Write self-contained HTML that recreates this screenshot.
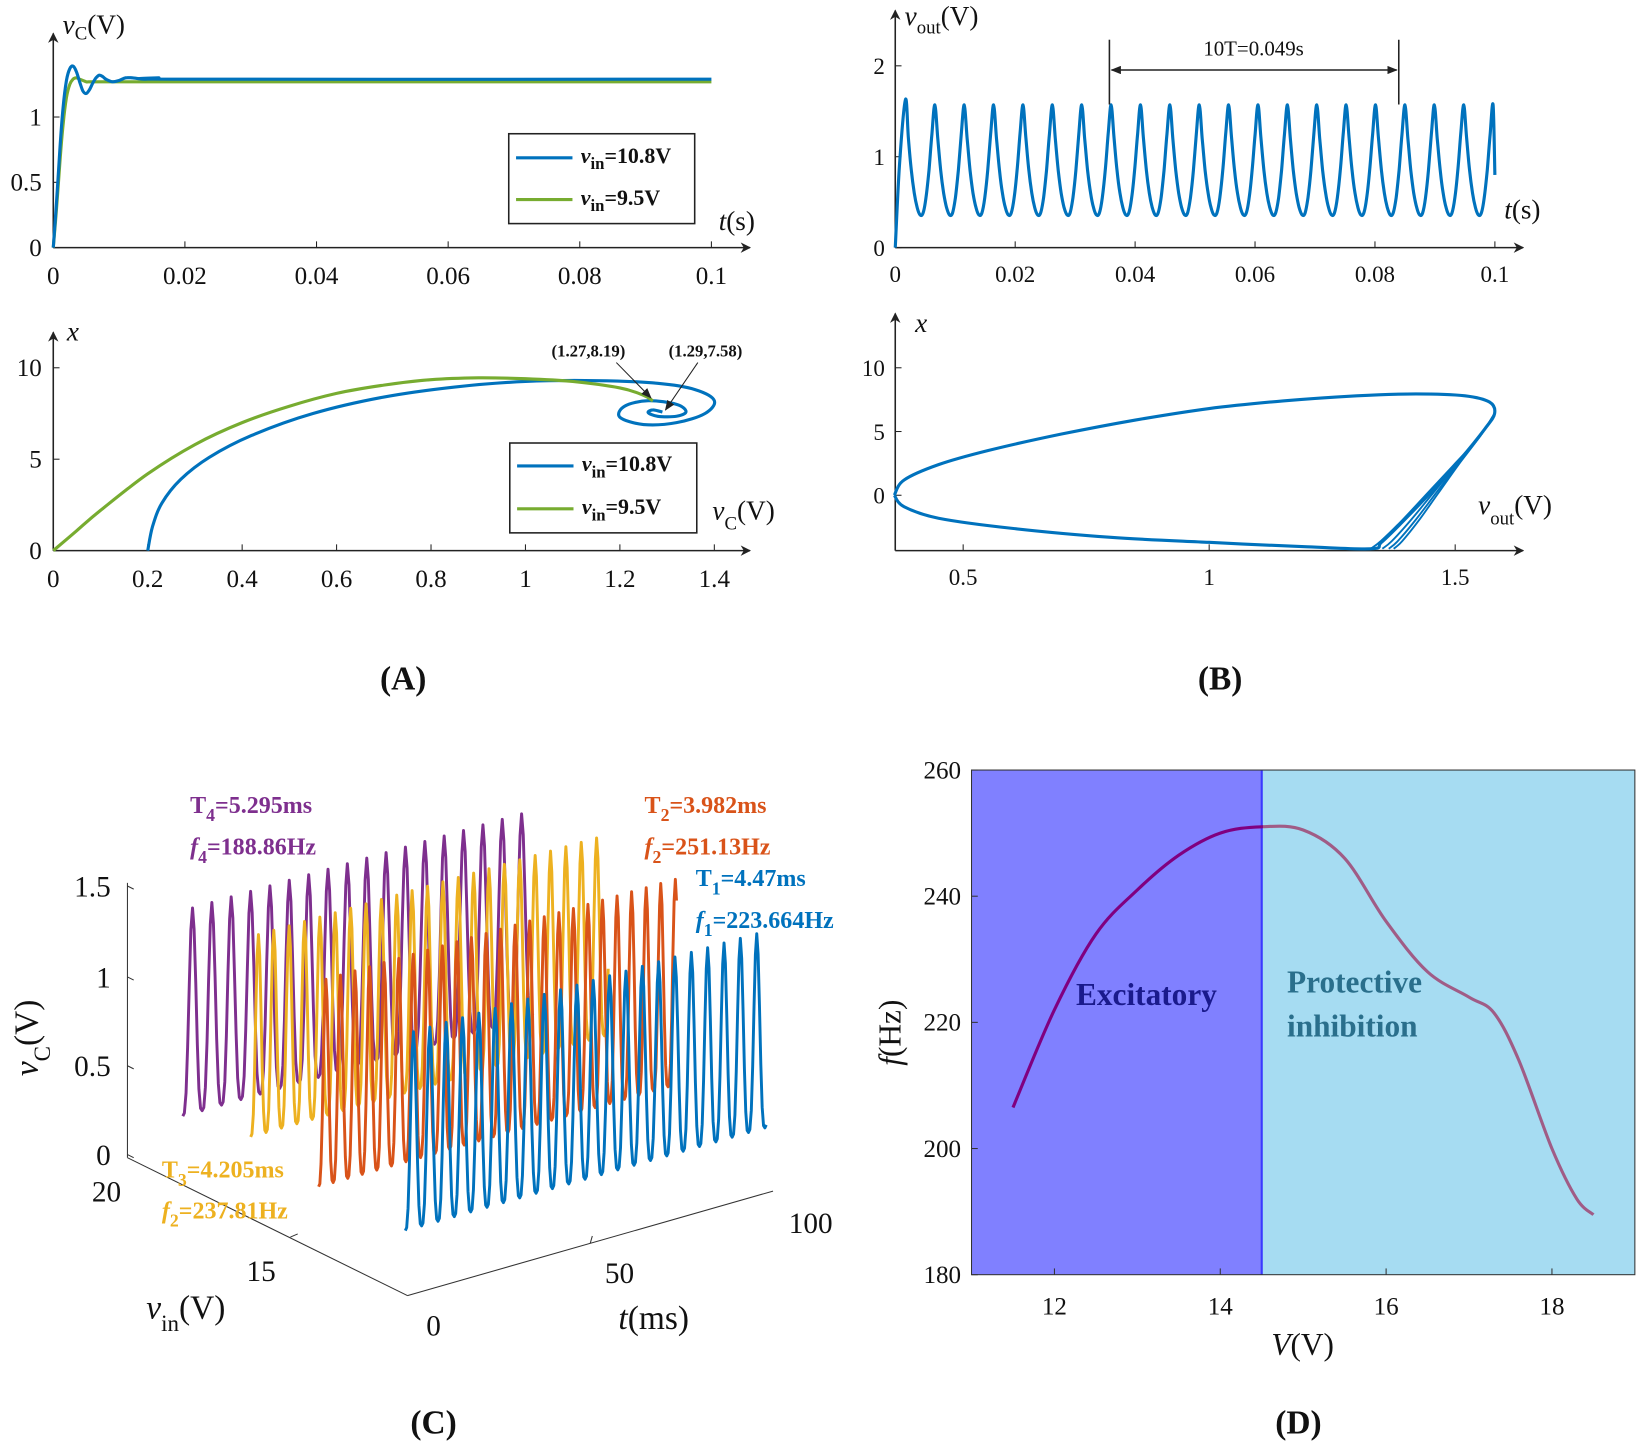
<!DOCTYPE html>
<html><head><meta charset="utf-8"><style>
html,body{margin:0;padding:0;background:#fff;}
svg{display:block;font-family:"Liberation Serif",serif;}
</style></head><body>
<svg id="fig" width="1638" height="1445" viewBox="0 0 1568 1383" preserveAspectRatio="none" xmlns="http://www.w3.org/2000/svg">
<defs>
<marker id="arr" markerWidth="10" markerHeight="10" refX="9" refY="5" orient="auto" markerUnits="userSpaceOnUse"><path d="M0,0 L10,5 L0,10 L3,5 Z" fill="#222"/></marker>
<marker id="arrs" markerWidth="10" markerHeight="8" refX="9" refY="4" orient="auto" markerUnits="userSpaceOnUse"><path d="M0,0 L10,4 L0,8 Z" fill="#222"/></marker>
<marker id="arrsr" markerWidth="10" markerHeight="8" refX="1" refY="4" orient="auto" markerUnits="userSpaceOnUse"><path d="M10,0 L0,4 L10,8 Z" fill="#222"/></marker>
<clipPath id="clipL"><rect x="930" y="737" width="279" height="483"/></clipPath>
<clipPath id="clipR"><rect x="1209" y="737" width="356" height="483"/></clipPath>
</defs>
<g id="root"></g>
</svg>
<script>
// ---------- DATA ----------
const aTopT = [0,0.0005,0.001,0.0015,0.002,0.0025,0.003,0.0035,0.004,0.0045,0.005,0.0055,0.006,0.0065,0.007,0.0075,0.008,0.009,0.01,0.011,0.012,0.014,0.016,0.02,0.1];
const aTopBlue = [0,0.35,0.75,1.08,1.28,1.37,1.39,1.35,1.27,1.2,1.18,1.21,1.26,1.3,1.32,1.31,1.29,1.27,1.28,1.3,1.3,1.29,1.3,1.29,1.29];
const aTopGreen = [0,0.3,0.65,0.95,1.15,1.25,1.29,1.3,1.29,1.28,1.27,1.27,1.27,1.27,1.27,1.27,1.27,1.27,1.27,1.27,1.27,1.27,1.27,1.27,1.27];
const aTopXTicks = [0,0.02,0.04,0.06,0.08,0.1];
const aTopYTicks = [0,0.5,1];
const aBotBlueV = [0.2,0.21,0.23,0.27,0.33,0.42,0.55,0.7,0.85,1.0,1.15,1.28,1.36,1.4,1.38,1.32,1.25,1.2,1.21,1.26,1.32,1.34,1.32,1.28,1.26,1.27,1.29];
const aBotBlueX = [0,1.3,2.6,3.9,5.1,6.3,7.5,8.4,8.95,9.25,9.3,9.15,8.8,8.2,7.5,7.0,6.9,7.3,7.9,8.2,8.0,7.6,7.35,7.35,7.55,7.7,7.58];
const aBotGreenV = [0,0.05,0.1,0.2,0.3,0.4,0.5,0.6,0.7,0.8,0.9,1.0,1.1,1.2,1.25,1.27];
const aBotGreenX = [0,1.1,2.2,4.2,5.8,7.0,7.9,8.6,9.05,9.35,9.45,9.4,9.25,8.9,8.5,8.19];
const aBotXTicks = [0,0.2,0.4,0.6,0.8,1,1.2,1.4];
const aBotYTicks = [0,5,10];
const bPeriod = 0.0049;
const bShapePhase = [0,0.1,0.2,0.3,0.4,0.5,0.6,0.7,0.8,0.9,1];
const bShapeVal = [1.57,1.2,0.85,0.6,0.44,0.36,0.38,0.55,0.85,1.25,1.57];
const bFirstPeak = 0.0017;
const bTopXTicks = [0,0.02,0.04,0.06,0.08,0.1];
const bTopYTicks = [0,1,2];
const bBotV = [0.36,0.38,0.45,0.55,0.7,0.85,1.0,1.15,1.3,1.42,1.52,1.57,1.58,1.56,1.51,1.45,1.39,1.35,1.33,1.2,1.0,0.8,0.6,0.45,0.38,0.36];
const bBotX = [0,1.2,2.4,3.5,4.8,5.9,6.8,7.4,7.8,7.95,7.8,7.3,6.4,5.2,2.8,0.2,-2.2,-3.7,-4.2,-4.05,-3.7,-3.3,-2.6,-1.8,-0.9,0];
const bTransV = [1.58,1.55,1.5,1.45,1.4,1.36,1.34];
const bTransX = [6.4,4.6,2.4,0.2,-2.0,-3.6,-4.2];
const bTransOffsets = [0.025,0.012,-0.012,0.035];
const bBotXTicks = [0.5,1,1.5];
const bBotYTicks = [0,5,10];
const cNames = ['T4','T3','T2','T1'];
const cPeriods = [5.295,4.205,3.982,4.47];
const cMin = [0.25,0.28,0.2,0.2];
const cMax = [1.4,1.4,1.35,1.3];
const cStartX = [175,240,305,388];
const cBaseY = [1111,1136,1170,1212];
const cDuration = [96,98,98,99];
const cColors = ['#7e2f8e','#edb120','#d95319','#0072bd'];
const dV = [11.5,12,12.5,13,13.5,14,14.5,15,15.5,16,16.5,17,17.3,17.6,18,18.3,18.5];
const dF = [206.5,222,234,241,246.5,250,251,250.5,246,236,228,224,221.5,214,200,192,189.5];
const dXTicks = [12,14,16,18];
const dYTicks = [180,200,220,240,260];

// ---------- HELPERS ----------
const NS='http://www.w3.org/2000/svg';
const root=document.getElementById('root');
function mk(tag,attrs,parent){const e=document.createElementNS(NS,tag);for(const k in attrs)e.setAttribute(k,attrs[k]);(parent||root).appendChild(e);return e;}
function txt(x,y,s,size,parent,extra){const t=mk('text',Object.assign({x:x,y:y,'font-size':size,fill:'#111'},extra||{}),parent);t.innerHTML=s;return t;}
function smooth(pts){
  let d='M'+pts[0][0].toFixed(1)+','+pts[0][1].toFixed(1);
  for(let i=0;i<pts.length-1;i++){const p0=pts[Math.max(0,i-1)],p1=pts[i],p2=pts[i+1],p3=pts[Math.min(pts.length-1,i+2)];
    const c1=[p1[0]+(p2[0]-p0[0])/6,p1[1]+(p2[1]-p0[1])/6],c2=[p2[0]-(p3[0]-p1[0])/6,p2[1]-(p3[1]-p1[1])/6];
    d+=' C'+c1[0].toFixed(1)+','+c1[1].toFixed(1)+' '+c2[0].toFixed(1)+','+c2[1].toFixed(1)+' '+p2[0].toFixed(1)+','+p2[1].toFixed(1);}
  return d;}
function axesArrow(g,x0,y0,x1,y1){mk('line',{x1:x0,y1:y0,x2:x1,y2:y1,stroke:'#222','stroke-width':1.5,'marker-end':'url(#arr)'},g);}

// ---------- PANEL A TOP ----------
(function(){
const g=mk('g',{});


const X=t=>51+t*6300, Y=v=>237-v*125;
axesArrow(g,51,237,718,237); axesArrow(g,51,237,51,32);
aTopXTicks.forEach(t=>{mk('line',{x1:X(t),y1:237,x2:X(t),y2:231,stroke:'#222'},g);txt(X(t),272,String(t),24,g,{'text-anchor':'middle'});});
aTopYTicks.forEach(v=>{mk('line',{x1:51,y1:Y(v),x2:57,y2:Y(v),stroke:'#222'},g);txt(40,Y(v)+8,String(v),24,g,{'text-anchor':'end'});});
txt(60,32,'<tspan font-style="italic">v</tspan><tspan font-size="18" dy="6">C</tspan><tspan dy="-6">(V)</tspan>',26,g);
txt(688,220,'<tspan font-style="italic">t</tspan>(s)',26,g);
const g1=mk('path',{d:smooth(aTopT.map((t,i)=>[X(t),Y(aTopGreen[i])])),fill:'none',stroke:'#77ac30','stroke-width':3},g);

const b1=mk('path',{d:smooth(aTopT.map((t,i)=>[X(t),Y(aTopBlue[i])])),fill:'none',stroke:'#0072bd','stroke-width':3},g);

const lg=mk('g',{},g);
mk('rect',{x:487,y:128,width:178,height:86,fill:'#fff',stroke:'#222','stroke-width':1.5},lg);
mk('line',{x1:494,y1:151,x2:548,y2:151,stroke:'#0072bd','stroke-width':3},lg);
mk('line',{x1:494,y1:191,x2:548,y2:191,stroke:'#77ac30','stroke-width':3},lg);
txt(556,156,'<tspan font-style="italic">v</tspan><tspan font-size="16" dy="6">in</tspan><tspan dy="-6">=10.8V</tspan>',21,lg,{'font-weight':'bold'});
txt(556,196,'<tspan font-style="italic">v</tspan><tspan font-size="16" dy="6">in</tspan><tspan dy="-6">=9.5V</tspan>',21,lg,{'font-weight':'bold'});
})();

// ---------- PANEL A BOTTOM ----------
(function(){
const g=mk('g',{});


const X=v=>51+v*452, Y=x=>527-x*17.5;
axesArrow(g,51,527,718,527); axesArrow(g,51,527,51,318);
aBotXTicks.forEach(t=>{mk('line',{x1:X(t),y1:527,x2:X(t),y2:521,stroke:'#222'},g);txt(X(t),562,String(t),24,g,{'text-anchor':'middle'});});
aBotYTicks.forEach(v=>{mk('line',{x1:51,y1:Y(v),x2:57,y2:Y(v),stroke:'#222'},g);txt(40,Y(v)+8,String(v),24,g,{'text-anchor':'end'});});
txt(64,326,'x',26,g,{'font-style':'italic'});
txt(682,497,'<tspan font-style="italic">v</tspan><tspan font-size="18" dy="10">C</tspan><tspan dy="-10">(V)</tspan>',26,g);
const b=mk('path',{d:smooth(aBotBlueV.map((v,i)=>[X(v),Y(aBotBlueX[i])])),fill:'none',stroke:'#0072bd','stroke-width':3},g);

const gr=mk('path',{d:smooth(aBotGreenV.map((v,i)=>[X(v),Y(aBotGreenX[i])])),fill:'none',stroke:'#77ac30','stroke-width':3},g);

txt(528,341,'(1.27,8.19)',16,g,{'font-weight':'bold'});
txt(640,341,'(1.29,7.58)',16,g,{'font-weight':'bold'});
mk('line',{x1:590,y1:347,x2:X(1.27)-2,y2:Y(8.19)-3,stroke:'#222','stroke-width':1,'marker-end':'url(#arrs)'},g);
mk('line',{x1:668,y1:347,x2:X(1.29)+3,y2:Y(7.58)-2,stroke:'#222','stroke-width':1,'marker-end':'url(#arrs)'},g);
const lg=mk('g',{},g);
mk('rect',{x:488,y:424,width:179,height:86,fill:'#fff',stroke:'#222','stroke-width':1.5},lg);
mk('line',{x1:495,y1:446,x2:549,y2:446,stroke:'#0072bd','stroke-width':3},lg);
mk('line',{x1:495,y1:487,x2:549,y2:487,stroke:'#77ac30','stroke-width':3},lg);
txt(557,451,'<tspan font-style="italic">v</tspan><tspan font-size="16" dy="6">in</tspan><tspan dy="-6">=10.8V</tspan>',21,lg,{'font-weight':'bold'});
txt(557,492,'<tspan font-style="italic">v</tspan><tspan font-size="16" dy="6">in</tspan><tspan dy="-6">=9.5V</tspan>',21,lg,{'font-weight':'bold'});
})();

// ---------- PANEL B TOP ----------
(function(){
const g=mk('g',{});


const X=t=>857+t*5740, Y=v=>237-v*87;
axesArrow(g,857,237,1458,237); axesArrow(g,857,237,857,10);
bTopXTicks.forEach(t=>{mk('line',{x1:X(t),y1:237,x2:X(t),y2:231,stroke:'#222'},g);txt(X(t),270,String(t),22,g,{'text-anchor':'middle'});});
bTopYTicks.forEach(v=>{mk('line',{x1:857,y1:Y(v),x2:863,y2:Y(v),stroke:'#222'},g);txt(847,Y(v)+8,String(v),22,g,{'text-anchor':'end'});});
txt(866,24,'<tspan font-style="italic">v</tspan><tspan font-size="18" dy="8">out</tspan><tspan dy="-8">(V)</tspan>',26,g);
txt(1440,209,'<tspan font-style="italic">t</tspan>(s)',26,g);
const pts=[[X(0),Y(0)],[X(0.0007),Y(0.9)],[X(bFirstPeak),Y(1.63)]];
let t0=bFirstPeak;
while(t0<0.1){for(let i=1;i<bShapePhase.length;i++){const t=t0+bShapePhase[i]*bPeriod;if(t>0.1)break;pts.push([X(t),Y(bShapeVal[i])]);}t0+=bPeriod;}
pts.push([X(0.1),Y(0.8)]);
const p=mk('path',{d:smooth(pts),fill:'none',stroke:'#0072bd','stroke-width':3},g);

mk('line',{x1:1062,y1:38,x2:1062,y2:100,stroke:'#222','stroke-width':1.5},g);
mk('line',{x1:1339,y1:38,x2:1339,y2:100,stroke:'#222','stroke-width':1.5},g);
mk('line',{x1:1064,y1:67,x2:1337,y2:67,stroke:'#222','stroke-width':1.5,'marker-end':'url(#arrs)','marker-start':'url(#arrsr)'},g);
txt(1200,53,'10T=0.049s',20,g,{'text-anchor':'middle'});
})();

// ---------- PANEL B BOTTOM ----------
(function(){
const g=mk('g',{});


const X=v=>857+(v-0.362)*471, Y=x=>474-x*12.2;
axesArrow(g,857,527,1458,527); axesArrow(g,857,527,857,300);
bBotXTicks.forEach(t=>{mk('line',{x1:X(t),y1:527,x2:X(t),y2:521,stroke:'#222'},g);txt(X(t),560,String(t),22,g,{'text-anchor':'middle'});});
bBotYTicks.forEach(v=>{mk('line',{x1:857,y1:Y(v),x2:863,y2:Y(v),stroke:'#222'},g);txt(847,Y(v)+8,String(v),22,g,{'text-anchor':'end'});});
txt(876,318,'x',26,g,{'font-style':'italic'});
txt(1415,492,'<tspan font-style="italic">v</tspan><tspan font-size="18" dy="10">out</tspan><tspan dy="-10">(V)</tspan>',26,g);
const p=mk('path',{d:smooth(bBotV.map((v,i)=>[X(v),Y(bBotX[i])])),fill:'none',stroke:'#0072bd','stroke-width':3},g);

bTransOffsets.forEach(o=>{
  const q=mk('path',{d:smooth(bTransV.map((v,i)=>{const w=Math.max(0,Math.min(1,(4-bTransX[i])/8.2));return [X(v+o*w),Y(bTransX[i])];})),fill:'none',stroke:'#0072bd','stroke-width':1.8},g);
  
});
})();

// ---------- PANEL C ----------
(function(){
const g=mk('g',{});


mk('line',{x1:122,y1:845,x2:122,y2:1108,stroke:'#333','stroke-width':1},g);
mk('line',{x1:122,y1:1108,x2:390,y2:1240,stroke:'#333','stroke-width':1},g);
mk('line',{x1:390,y1:1240,x2:740,y2:1140,stroke:'#333','stroke-width':1},g);
[[0,1105],[0.5,1020],[1,935],[1.5,848]].forEach(a=>{mk('line',{x1:122,y1:a[1],x2:128,y2:a[1]+3,stroke:'#333'},g);txt(106,a[1]+10,String(a[0]),28,g,{'text-anchor':'end'});});
txt(88,1150,'20',28,g);txt(236,1226,'15',28,g);
mk('line',{x1:278,y1:1184,x2:285,y2:1181,stroke:'#333'},g);
txt(408,1278,'0',28,g);txt(579,1228,'50',28,g);txt(755,1180,'100',28,g);
mk('line',{x1:565,y1:1190,x2:567,y2:1183,stroke:'#333'},g);
txt(140,1262,'<tspan font-style="italic">v</tspan><tspan font-size="22" dy="12">in</tspan><tspan dy="-12">(V)</tspan>',32,g);
txt(592,1272,'<tspan font-style="italic">t</tspan>(ms)',32,g);
txt(0,0,'<tspan font-style="italic">v</tspan><tspan font-size="22" dy="12">C</tspan><tspan dy="-12">(V)</tspan>',32,g,{transform:'translate(36,1030) rotate(-90)'});
const dx=3.5, dy=-1.0, vs=171;
for(let s=0;s<cNames.length;s++){
  const pts=[];const P=cPeriods[s];
  for(let t=0;t<=cDuration[s];t+=P/12){
    const ph=(t/P)%1; const w=Math.pow((1-Math.cos(2*Math.PI*ph))/2,1.6);
    const v=cMin[s]+(cMax[s]-cMin[s])*w;
    pts.push([cStartX[s]+t*dx, cBaseY[s]+t*dy - v*vs]);
  }
  const p=mk('polyline',{points:pts.map(q=>q[0].toFixed(1)+','+q[1].toFixed(1)).join(' '),fill:'none',stroke:cColors[s],'stroke-width':2.8,'stroke-linejoin':'round'},g);
  
  
}
const lab=(x,y,a,b,c,col)=>{txt(x,y,a+'<tspan font-size="17" dy="8">'+b+'</tspan><tspan dy="-8">'+c+'</tspan>',23,g,{fill:col,'font-weight':'bold'});};
lab(182,778,'T','4','=5.295ms','#7e2f8e');
lab(182,818,'<tspan font-style="italic">f</tspan>','4','=188.86Hz','#7e2f8e');
lab(617,778,'T','2','=3.982ms','#d95319');
lab(617,818,'<tspan font-style="italic">f</tspan>','2','=251.13Hz','#d95319');
lab(666,848,'T','1','=4.47ms','#0072bd');
lab(666,888,'<tspan font-style="italic">f</tspan>','1','=223.664Hz','#0072bd');
lab(155,1127,'T','3','=4.205ms','#edb120');
lab(155,1166,'<tspan font-style="italic">f</tspan>','2','=237.81Hz','#edb120');
})();

// ---------- PANEL D ----------
(function(){
const g=mk('g',{});


const X=v=>930+(v-11)*79.375, Y=f=>1220-(f-180)*6.0375;
const r1=mk('rect',{x:930,y:737,width:X(14.5)-930,height:483,fill:'#8080ff'},g);

const r2=mk('rect',{x:X(14.5),y:737,width:1565-X(14.5),height:483,fill:'#a6dcf2'},g);

mk('line',{x1:X(14.5),y1:737,x2:X(14.5),y2:1220,stroke:'#3a3aff','stroke-width':2},g);
mk('rect',{x:930,y:737,width:635,height:483,fill:'none',stroke:'#333','stroke-width':1},g);
dXTicks.forEach(v=>{mk('line',{x1:X(v),y1:1220,x2:X(v),y2:1214,stroke:'#333'},g);txt(X(v),1258,String(v),24,g,{'text-anchor':'middle'});});
dYTicks.forEach(f=>{mk('line',{x1:930,y1:Y(f),x2:936,y2:Y(f),stroke:'#333'},g);txt(920,Y(f)+8,String(f),24,g,{'text-anchor':'end'});});
const d=smooth(dV.map((v,i)=>[X(v),Y(dF[i])]));
const c1=mk('path',{d:d,fill:'none',stroke:'#800080','stroke-width':3,'clip-path':'url(#clipL)'},g);

const c2=mk('path',{d:d,fill:'none',stroke:'#a05c86','stroke-width':3,'clip-path':'url(#clipR)'},g);

txt(1030,962,'Excitatory',30,g,{fill:'#1a1a8c','font-weight':'bold'});
txt(1232,950,'Protective',30,g,{fill:'#2a6f8c','font-weight':'bold'});
txt(1232,992,'inhibition',30,g,{fill:'#2a6f8c','font-weight':'bold'});
txt(1217,1297,'<tspan font-style="italic">V</tspan>(V)',30,g);
txt(0,0,'<tspan font-style="italic">f</tspan>(Hz)',30,g,{transform:'translate(862,1020) rotate(-90)'});
})();

// ---------- PANEL LABELS ----------
[['(A)',386,660],['(B)',1168,660],['(C)',415,1372],['(D)',1243,1372]].forEach(l=>{
  const t=txt(l[1],l[2],l[0],32,root,{'text-anchor':'middle','font-weight':'bold'});
  
  
});
</script>
</body></html>
